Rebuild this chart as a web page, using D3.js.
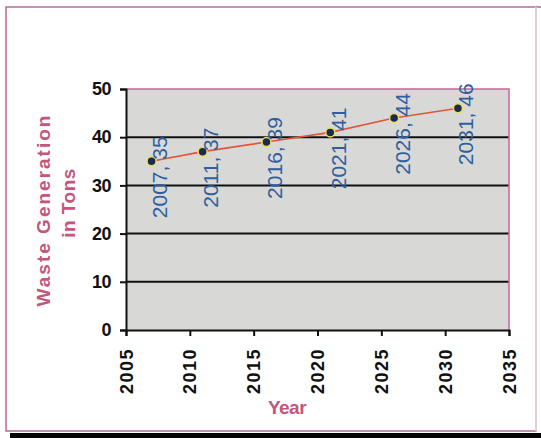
<!DOCTYPE html>
<html><head><meta charset="utf-8">
<script src="https://cdn.jsdelivr.net/npm/d3@7"></script>
<style>
html,body{margin:0;padding:0;background:#fff;}
svg{display:block;font-family:"Liberation Sans",Arial,sans-serif;}
</style></head>
<body><svg id="c" width="541" height="438"></svg>
<script>
const years = [2007, 2011, 2016, 2021, 2026, 2031];
const waste = [35, 37, 39, 41, 44, 46];
const pointLabels = ["2007, 35", "2011, 37", "2016, 39", "2021, 41", "2026, 44", "2031, 46"];
const xTicks = [2005, 2010, 2015, 2020, 2025, 2030, 2035];
const yTicks = [0, 10, 20, 30, 40, 50];
const yTitle = ["Waste Generation", "in Tons"];
const xTitle = "Year";

const svg = d3.select("#c");
const x = d3.scaleLinear().domain([2005, 2035]).range([126, 509]);
const y = d3.scaleLinear().domain([0, 50]).range([330, 89]);

// outer frame
svg.append("rect").attr("x", 6).attr("y", 7).attr("width", 530).attr("height", 424)
  .attr("fill", "#fff").attr("stroke", "#b56a95").attr("stroke-width", 1.5);
svg.append("line").attr("x1", 536).attr("x2", 541).attr("y1", 7).attr("y2", 7)
  .attr("stroke", "#b56a95").attr("stroke-width", 1.5);
svg.append("line").attr("x1", 536).attr("x2", 536).attr("y1", 7).attr("y2", 431)
  .attr("stroke", "#e4e4e4").attr("stroke-width", 1.5);
svg.append("rect").attr("x", 10).attr("y", 433).attr("width", 531).attr("height", 5).attr("fill", "#050505");

// plot background
svg.append("rect").attr("x", x(2005)).attr("y", y(50)).attr("width", x(2035) - x(2005)).attr("height", y(0) - y(50))
  .attr("fill", "#d8d9d6");

// gridlines
svg.append("g").selectAll("line").data(yTicks.filter(d => d > 0 && d < 50)).join("line")
  .attr("x1", x(2005)).attr("x2", x(2035)).attr("y1", d => y(d)).attr("y2", d => y(d))
  .attr("stroke", "#111").attr("stroke-width", 2);
// top & right border (pink)
svg.append("path").attr("d", `M${x(2005)},${y(50)}H${x(2035)}V${y(0)}`)
  .attr("fill", "none").attr("stroke", "#d0609a").attr("stroke-width", 1.5);

// axes
const yAxis = d3.axisLeft(y).tickValues(yTicks).tickSize(6).tickPadding(9).tickFormat(d3.format("d"));
const gy = svg.append("g").attr("transform", `translate(${x(2005)},0)`).call(yAxis);
gy.select(".domain").attr("stroke", "#111").attr("stroke-width", 2);
gy.selectAll(".tick line").attr("stroke", "#111").attr("stroke-width", 2);
gy.selectAll("text").attr("font-size", 18).attr("font-weight", "bold").attr("fill", "#111")
  .attr("font-family", "'Liberation Sans',Arial,sans-serif").attr("letter-spacing", "-0.5px");

const xAxis = d3.axisBottom(x).tickValues(xTicks).tickSize(6).tickFormat(d3.format("d"));
const gx = svg.append("g").attr("transform", `translate(0,${y(0)})`).call(xAxis);
gx.select(".domain").attr("stroke", "#111").attr("stroke-width", 2);
gx.selectAll(".tick line").attr("stroke", "#111").attr("stroke-width", 2);
gx.selectAll("text").attr("font-size", 18).attr("font-weight", "bold").attr("fill", "#111")
  .attr("font-family", "'Liberation Sans',Arial,sans-serif").attr("letter-spacing", "1.5px")
  .attr("text-anchor", "end").attr("dy", null).attr("y", 0)
  .attr("dominant-baseline", "central")
  .attr("transform", "translate(0,18) rotate(-90)");

// line
svg.append("path").datum(years.map((d, i) => [d, waste[i]]))
  .attr("d", d3.line().x(d => x(d[0])).y(d => y(d[1])))
  .attr("fill", "none").attr("stroke", "#e2553a").attr("stroke-width", 1.6);

// markers
svg.append("g").selectAll("circle").data(years).join("circle")
  .attr("cx", d => x(d)).attr("cy", (d, i) => y(waste[i])).attr("r", 4.5)
  .attr("fill", "#1b2a4e").attr("stroke", "#e6df5c").attr("stroke-width", 1.5);

// data labels
svg.append("g").selectAll("text").data(years).join("text")
  .attr("transform", (d, i) => `translate(${x(d) + 8},${y(waste[i]) + 16}) rotate(-90)`)
  .attr("text-anchor", "middle").attr("dominant-baseline", "central")
  .attr("font-size", 21).attr("fill", "#2f5f9e")
  .text((d, i) => pointLabels[i]);

// axis titles
const yt = svg.append("g").attr("transform", "translate(43,210) rotate(-90)");
yt.append("text").attr("text-anchor", "middle").attr("dominant-baseline", "central")
  .attr("font-size", 19).attr("font-weight", "bold").attr("fill", "#c4557c").attr("letter-spacing", "2px")
  .text(yTitle[0]);
yt.append("text").attr("y", 25).attr("x", 7).attr("text-anchor", "middle").attr("dominant-baseline", "central")
  .attr("font-size", 19).attr("font-weight", "bold").attr("fill", "#c4557c").attr("letter-spacing", "0.5px")
  .text(yTitle[1]);

svg.append("text").attr("x", 287).attr("y", 414).attr("text-anchor", "middle")
  .attr("font-size", 19).attr("font-weight", "bold").attr("fill", "#c4557c").attr("letter-spacing", "-0.5px")
  .text(xTitle);
</script></body></html>
